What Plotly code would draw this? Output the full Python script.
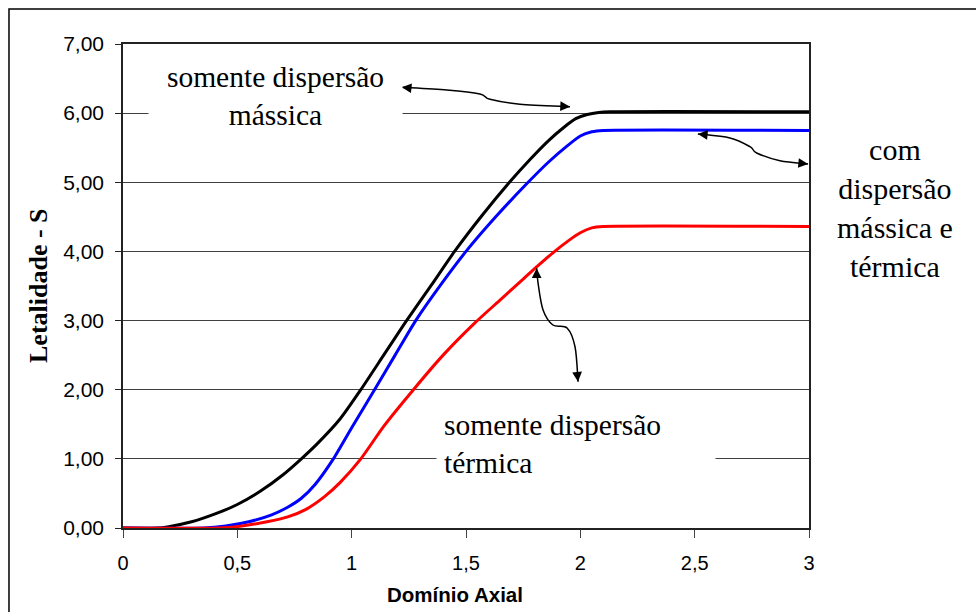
import plotly.graph_objects as go

# Letalidade ao longo do domínio axial
x_massica = [0, 0.15, 0.2, 0.3, 0.4, 0.5, 0.6, 0.7, 0.78, 0.85, 0.95, 1.04, 1.14, 1.24, 1.35,
             1.45, 1.57, 1.69, 1.78, 1.86, 1.93, 1.98, 2.03, 2.08, 2.13, 3.0]
y_massica = [0, 0, 0.02, 0.09, 0.2, 0.34, 0.53, 0.77, 1.0, 1.22, 1.58, 2.0, 2.5, 3.0, 3.52,
             4.0, 4.52, 5.0, 5.33, 5.6, 5.8, 5.92, 5.98, 6.01, 6.02, 6.02]

x_massica_termica = [0, 0.35, 0.45, 0.55, 0.65, 0.72, 0.78, 0.84, 0.92, 1.0, 1.1, 1.19, 1.28,
                     1.39, 1.5, 1.63, 1.76, 1.86, 1.94, 2.0, 2.05, 2.1, 3.0]
y_massica_termica = [0, 0, 0.03, 0.09, 0.19, 0.3, 0.43, 0.63, 1.0, 1.45, 2.0, 2.5, 3.0,
                     3.52, 4.0, 4.5, 4.96, 5.29, 5.52, 5.67, 5.73, 5.75, 5.75]

x_termica = [0, 0.42, 0.5, 0.63, 0.72, 0.8, 0.88, 0.95, 1.04, 1.14, 1.27, 1.4, 1.54, 1.65,
             1.75, 1.81, 1.88, 1.95, 2.0, 2.05, 2.1, 3.0]
y_termica = [0, 0, 0.02, 0.09, 0.16, 0.27, 0.45, 0.66, 1.0, 1.47, 2.0, 2.5, 2.97, 3.3,
             3.6, 3.78, 3.98, 4.16, 4.27, 4.34, 4.36, 4.36]

SERIF = "Times New Roman, Liberation Serif, serif"
SANS = "Arial, Liberation Sans, sans-serif"

fig = go.Figure()
for xs, ys, color, label in (
    (x_massica, y_massica, "#000000", "somente dispersão mássica"),
    (x_massica_termica, y_massica_termica, "#0000ff", "com dispersão mássica e térmica"),
    (x_termica, y_termica, "#ff0000", "somente dispersão térmica"),
):
    fig.add_trace(go.Scatter(x=xs, y=ys, mode="lines", name=label,
                             line=dict(color=color, width=3, shape="spline", smoothing=0.6)))


def smooth_path(pts):
    """Catmull-Rom curve through the points, written as an SVG cubic path."""
    d = f"M {pts[0][0]},{pts[0][1]}"
    n = len(pts)
    for i in range(n - 1):
        p0 = pts[i - 1] if i > 0 else pts[i]
        p1 = pts[i]
        p2 = pts[i + 1]
        p3 = pts[i + 2] if i + 2 < n else pts[i + 1]
        c1 = (p1[0] + (p2[0] - p0[0]) / 6, p1[1] + (p2[1] - p0[1]) / 6)
        c2 = (p2[0] - (p3[0] - p1[0]) / 6, p2[1] - (p3[1] - p1[1]) / 6)
        d += f" C {c1[0]},{c1[1]} {c2[0]},{c2[1]} {p2[0]},{p2[1]}"
    return d


# curved double-headed pointers (data coordinates), with tail offsets for the heads
pointers = [
    ([(1.219, 6.374), (1.416, 6.335), (1.561, 6.277), (1.605, 6.20), (1.736, 6.13), (1.955, 6.094)],
     (10, 1), (-10, -0.5)),
    ([(2.514, 5.699), (2.654, 5.641), (2.742, 5.515), (2.771, 5.424), (2.873, 5.312), (2.996, 5.265)],
     (10, 1), (-10, -1)),
    ([(1.809, 3.756), (1.815, 3.544), (1.837, 3.153), (1.880, 2.936), (1.942, 2.893), (1.977, 2.618),
      (1.990, 2.116)],
     (0, 10), (-1, -10)),
]

annotations = []
for pts, tail_a, tail_b in pointers:
    fig.add_shape(type="path", path=smooth_path(pts), xref="x", yref="y",
                  line=dict(color="#000000", width=1.5), layer="above")
    for (hx, hy), (ax, ay) in ((pts[0], tail_a), (pts[-1], tail_b)):
        annotations.append(dict(x=hx, y=hy, xref="x", yref="y", ax=ax, ay=ay, text="",
                                showarrow=True, arrowhead=2, arrowsize=1.3, arrowwidth=1.5,
                                arrowcolor="#000000", standoff=0))

annotations += [
    dict(x=0.667, y=6.255, xref="x", yref="y", text="somente dispersão<br>mássica",
         showarrow=False, bgcolor="#ffffff", width=251, height=80, align="center",
         xanchor="center", yanchor="middle",
         font=dict(family=SERIF, size=29.5, color="#000000")),
    dict(x=1.981, y=1.215, xref="x", yref="y", text="somente dispersão<br>térmica",
         showarrow=False, bgcolor="#ffffff", width=264, height=80, borderpad=7, align="left",
         xanchor="center", yanchor="middle",
         font=dict(family=SERIF, size=29.5, color="#000000")),
    dict(x=1.1254, y=0.662, xref="paper", yref="paper",
         text="com<br>dispersão<br>mássica e<br>térmica",
         showarrow=False, align="center", xanchor="center", yanchor="middle",
         font=dict(family=SERIF, size=30, color="#000000")),
    dict(x=-0.1239, y=0.5, xref="paper", yref="paper", text="<b>Letalidade - S</b>",
         textangle=-90, showarrow=False, xanchor="center", yanchor="middle",
         font=dict(family=SERIF, size=26, color="#000000")),
    dict(x=0.484, y=-0.138, xref="paper", yref="paper", text="<b>Domínio Axial</b>",
         showarrow=False, xanchor="center", yanchor="middle",
         font=dict(family=SANS, size=20.5, color="#000000")),
]

# outer chart frame
fig.add_shape(type="rect", xref="paper", yref="paper", x0=-0.1662, x1=1.264, y0=-0.19, y1=1.0723,
              line=dict(color="#000000", width=1.5), fillcolor="rgba(0,0,0,0)", layer="below")

fig.update_layout(
    width=976, height=612,
    margin=dict(l=123, r=167, t=44, b=84),
    paper_bgcolor="#ffffff", plot_bgcolor="#ffffff",
    separators=",.",
    showlegend=False,
    annotations=annotations,
    xaxis=dict(range=[0, 3], dtick=0.5, tickformat="~g", showgrid=False, zeroline=False,
               showline=True, mirror=True, linecolor="#222222", linewidth=1.5,
               ticks="outside", ticklen=8, tickcolor="#444444", ticklabelstandoff=8,
               tickfont=dict(family=SANS, size=20, color="#000000")),
    yaxis=dict(range=[0, 7], dtick=1, tickformat=".2f", showgrid=True, gridcolor="#404040",
               gridwidth=1, zeroline=False, showline=True, mirror=True, linecolor="#222222",
               linewidth=1.5, ticks="outside", ticklen=6, tickcolor="#222222",
               ticklabelstandoff=7, tickfont=dict(family=SANS, size=21, color="#000000")),
)

fig.write_html("out.html")
